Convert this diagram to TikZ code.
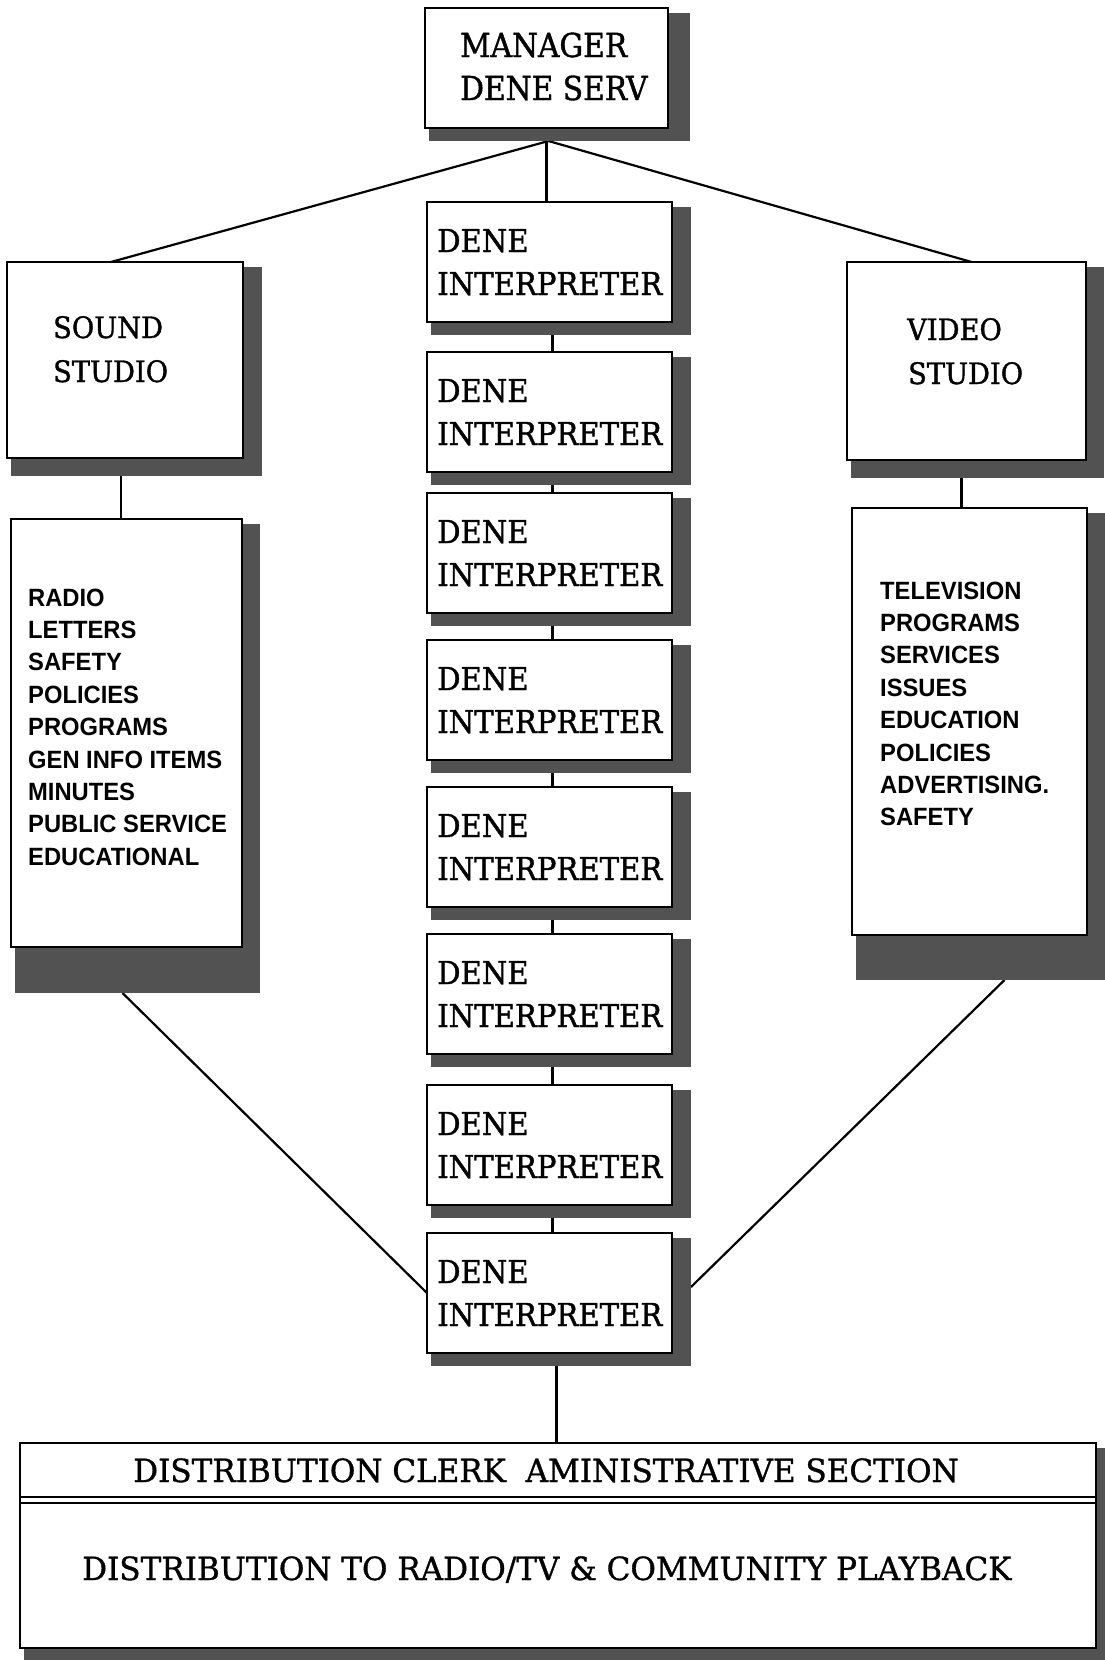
\documentclass[tikz,border=0pt]{standalone}
\usepackage{fontspec}
\setmainfont{DejaVu Serif}
\newfontfamily\boxfont{DejaVu Serif}[FakeStretch=0.925, FakeBold=1.2]
\newfontfamily\mgrfont{DejaVu Serif}[FakeStretch=0.9, FakeBold=1.2]
\newfontfamily\condfont{DejaVu Serif}[FakeStretch=0.97, FakeBold=1.0]
\newfontfamily\listfont{Liberation Sans}[FakeStretch=0.95]
\usetikzlibrary{calc}
\pgfdeclarelayer{paper}
\pgfdeclarelayer{background}
\pgfsetlayers{paper,background,main}
\tikzset{
  shadowc/.style={fill=black!68},
  box/.style={draw=black, line width=2.4pt, fill=white, inner sep=0pt, outer sep=0pt, anchor=north west},
  btxt/.style={anchor=base west, inner sep=0pt, font=\boxfont\fontsize{31.5}{31.5}\selectfont},
  mtxt/.style={anchor=base west, inner sep=0pt, font=\mgrfont\fontsize{33}{33}\selectfont},
  stxt/.style={anchor=base west, inner sep=0pt, font=\boxfont\fontsize{29.5}{29.5}\selectfont},
  dtxt/.style={anchor=base west, inner sep=0pt, font=\condfont\fontsize{32}{32}\selectfont},
  ltxt/.style={anchor=base west, inner sep=0pt, font=\listfont\bfseries\fontsize{25}{25}\selectfont},
  conn/.style={draw=black, line width=2.2pt},
}
\begin{document}
\begin{tikzpicture}[x=1pt, y=-1pt]
\useasboundingbox (0,0) rectangle (1105,1660);
\begin{pgfonlayer}{paper}
\fill[white] (0,0) rectangle (1105,1660);
\end{pgfonlayer}

% manager
\fill[shadowc] (429,13) rectangle (690,141);
\node[box, minimum width=243, minimum height=120] (mgr) at (425,8) {};
\node[mtxt] (mgr1) at (460,57) {MANAGER};
\node[mtxt] (mgr2) at (460,100) {DENE SERV};
\coordinate (mgrjoin) at ([xshift=2pt,yshift=-13pt]mgr.south);

% interpreters
\foreach \T [count=\i] in {202,352,493,640,787,934,1085,1233} {
  \fill[shadowc] (431,\T+5) rectangle (691,\T+133);
  \node[box, minimum width=245, minimum height=120] (i\i) at (427,\T) {};
  \node[btxt] (d\i) at (437,\T+50) {DENE};
  \node[btxt] (p\i) at (437,\T+93) {INTERPRETER};
}

% sound studio
\fill[shadowc] (11,267) rectangle (262,476);
\node[box, minimum width=236, minimum height=196] (sound) at (7,262) {};
\node[stxt] (sound1) at (53,338) {SOUND};
\node[stxt] (sound2) at (53,382) {STUDIO};

% sound list
\fill[shadowc] (15,524) rectangle (260,993);
\node[box, minimum width=231, minimum height=428] (slist) at (11,519) {};
\foreach \t [count=\i] in {RADIO,LETTERS,SAFETY,POLICIES,PROGRAMS,GEN INFO ITEMS,MINUTES,PUBLIC SERVICE,EDUCATIONAL}
  \node[ltxt] (sl\i) at (28,{606+32.4*(\i-1)}) {\t};
\coordinate (slistout) at ([xshift=-4pt,yshift=-46pt]slist.south);

% video studio
\fill[shadowc] (851,267) rectangle (1104,478);
\node[box, minimum width=239, minimum height=198] (video) at (847,262) {};
\node[stxt] (video1) at (907,340) {VIDEO};
\node[stxt] (video2) at (908,384) {STUDIO};

% video list
\fill[shadowc] (856,513) rectangle (1105,980);
\node[box, minimum width=235, minimum height=427] (vlist) at (852,508) {};
\foreach \t [count=\i] in {TELEVISION,PROGRAMS,SERVICES,ISSUES,EDUCATION,POLICIES,ADVERTISING.,SAFETY}
  \node[ltxt] (vl\i) at (880,{599+32.4*(\i-1)}) {\t};
\coordinate (vlistout) at ([xshift=35pt,yshift=-45pt]vlist.south);

% distribution box
\fill[shadowc] (24,1448) rectangle (1105,1660);
\node[box, minimum width=1076, minimum height=205] (dist) at (20,1443) {};
\draw[line width=1.6pt] (dist.west |- 0,1497) -- (dist.east |- 0,1497);
\draw[line width=1.6pt] (dist.west |- 0,1503) -- (dist.east |- 0,1503);
\node[dtxt] (dist1) at (133,1482) {DISTRIBUTION CLERK\ \ AMINISTRATIVE SECTION};
\node[dtxt] (dist2) at (82,1580) {DISTRIBUTION TO RADIO/TV \& COMMUNITY PLAYBACK};

% connectors
\begin{pgfonlayer}{background}
  \draw[conn] (mgrjoin) -- ([xshift=-14pt]sound.north);
  \draw[conn] (mgrjoin) -- ([xshift=5pt]video.north);
  \draw[conn] (mgr.south) -- (mgr.south |- i1.north);
  \foreach \a/\b in {1/2,2/3,3/4,4/5,5/6,6/7,7/8}
    \draw[conn] ([xshift=3pt]i\a.south) -- ([xshift=3pt]i\b.north);
  \draw[conn] ([xshift=-4pt]sound.south) -- ([xshift=-4pt]sound.south |- slist.north);
  \draw[conn] ([xshift=-5pt]video.south) -- ([xshift=-5pt]video.south |- vlist.north);
  \draw[conn] (slistout) -- (i8.west);
  \draw[conn] (vlistout) -- ([xshift=19pt,yshift=6pt]i8.east);
  \draw[conn] ([xshift=7pt]i8.south) -- ([xshift=7pt]i8.south |- dist.north);
\end{pgfonlayer}
\end{tikzpicture}
\end{document}
